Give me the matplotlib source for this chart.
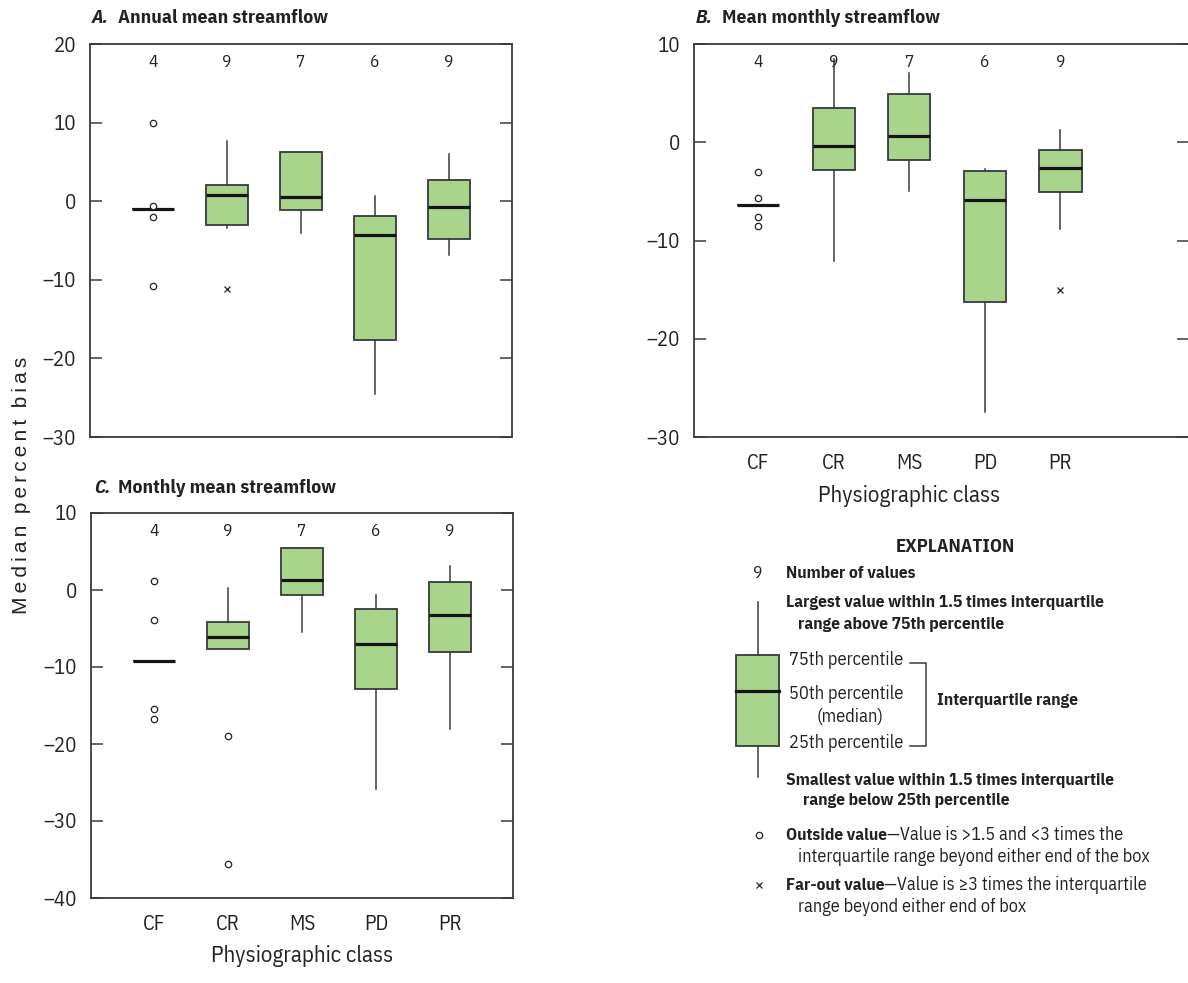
import matplotlib
matplotlib.use("Agg")
import matplotlib.pyplot as plt
from matplotlib.patches import Rectangle
from matplotlib.transforms import blended_transform_factory

NARROW = ["IBM Plex Sans Condensed", "Liberation Sans", "DejaVu Sans"]
plt.rcParams["font.family"] = NARROW

FILL = "#a8d48c"
EDGE = "#3a3a3a"
INK = "#222222"
W, H = 1188, 983

# ---------------------------------------------------------------------------
# Data
# ---------------------------------------------------------------------------
classes = ["CF", "CR", "MS", "PD", "PR"]
counts = [4, 9, 7, 6, 9]

# A. Annual mean streamflow
a_whislo = [-1.0, -3.4, -4.0, -24.5, -6.8]
a_q1 = [-1.0, -3.0, -1.1, -17.6, -4.8]
a_med = [-1.0, 0.8, 0.5, -4.3, -0.8]
a_q3 = [-1.0, 2.0, 6.3, -1.9, 2.7]
a_whishi = [-1.0, 7.7, 6.3, 0.6, 6.0]
a_outside = [[10.0, -0.6, -2.0, -10.8], [], [], [], []]
a_farout = [[], [-11.2], [], [], []]

# B. Mean monthly streamflow
b_whislo = [-6.4, -12.1, -5.0, -27.5, -8.8]
b_q1 = [-6.4, -2.8, -1.8, -16.3, -5.1]
b_med = [-6.4, -0.4, 0.6, -5.9, -2.6]
b_q3 = [-6.4, 3.5, 4.9, -2.9, -0.8]
b_whishi = [-6.4, 8.5, 7.0, -2.7, 1.2]
b_outside = [[-3.0, -5.7, -7.6, -8.5], [], [], [], []]
b_farout = [[], [], [], [], [-15.0]]

# C. Monthly mean streamflow
c_whislo = [-9.2, -7.6, -5.5, -25.9, -18.1]
c_q1 = [-9.2, -7.6, -0.6, -12.8, -8.0]
c_med = [-9.2, -6.1, 1.3, -7.0, -3.3]
c_q3 = [-9.2, -4.2, 5.4, -2.5, 1.1]
c_whishi = [-9.2, 0.3, 5.4, -0.7, 3.1]
c_outside = [[1.2, -3.9, -15.4, -16.7], [-19.0, -35.6], [], [], []]
c_farout = [[], [], [], [], []]


def px_rect(left, top, right, bottom):
    return [left / W, 1 - bottom / H, (right - left) / W, (bottom - top) / H]


def draw_panel(ax, whislo, q1, med, q3, whishi, outside, farout,
               ylim, yticks, xlim, show_x):
    stats = []
    for i in range(len(classes)):
        stats.append(dict(med=med[i], q1=q1[i], q3=q3[i],
                          whislo=whislo[i], whishi=whishi[i], fliers=[]))
    pos = list(range(1, len(classes) + 1))
    ax.bxp(stats, positions=pos, widths=0.56, patch_artist=True,
           showcaps=False, showfliers=False,
           boxprops=dict(facecolor=FILL, edgecolor=EDGE, linewidth=1.3),
           whiskerprops=dict(color=EDGE, linewidth=1.1),
           medianprops=dict(color="#151515", linewidth=2.3))
    for p, vals in zip(pos, outside):
        if vals:
            ax.plot([p] * len(vals), vals, linestyle="none", marker="o",
                    markersize=4.6, markerfacecolor="white",
                    markeredgecolor=INK, markeredgewidth=0.9, zorder=4)
    for p, vals in zip(pos, farout):
        if vals:
            ax.plot([p] * len(vals), vals, linestyle="none", marker="x",
                    markersize=5, color=INK, markeredgewidth=0.9, zorder=4)
    trans = blended_transform_factory(ax.transData, ax.transAxes)
    for p, n in zip(pos, counts):
        ax.text(p, 0.953, str(n), transform=trans, ha="center", va="center",
                fontsize=12.5, color=INK)
    ax.set_xlim(*xlim)
    ax.set_ylim(*ylim)
    ax.set_yticks(yticks)
    ax.set_yticklabels([str(t).replace("-", "\u2013") for t in yticks],
                       fontsize=15, color=INK)
    ax.tick_params(axis="y", direction="in", length=8.5, width=1.1,
                   color=EDGE, left=True, right=True, pad=10)
    ax.tick_params(axis="x", length=0, pad=12)
    ax.set_xticks(pos)
    if show_x:
        ax.set_xticklabels(classes, fontsize=15, color=INK)
        ax.text(3, -0.15, "Physiographic class", transform=trans,
                ha="center", va="center", fontsize=16.5, color=INK)
    else:
        ax.set_xticklabels([])
    for s in ax.spines.values():
        s.set_color(EDGE)
        s.set_linewidth(1.3)


def title(fig, x_letter, x_text, y, letter, text):
    fig.text(x_letter / W, 1 - y / H, letter, fontsize=14, fontweight="bold",
             style="italic", va="center", ha="left", color=INK)
    fig.text(x_text / W, 1 - y / H, text, fontsize=14, fontweight="bold",
             va="center", ha="left", color=INK)


fig = plt.figure(figsize=(W / 100, H / 100), dpi=100, facecolor="white")

ax_a = fig.add_axes(px_rect(90, 44, 512, 437))
draw_panel(ax_a, a_whislo, a_q1, a_med, a_q3, a_whishi, a_outside, a_farout,
           (-30, 20), [-30, -20, -10, 0, 10, 20], (0.149, 5.851), False)

ax_b = fig.add_axes(px_rect(694, 44, 1189, 437))
draw_panel(ax_b, b_whislo, b_q1, b_med, b_q3, b_whishi, b_outside, b_farout,
           (-30, 10), [-30, -20, -10, 0, 10], (0.152, 6.70), True)

ax_c = fig.add_axes(px_rect(91, 513, 513, 898))
draw_panel(ax_c, c_whislo, c_q1, c_med, c_q3, c_whishi, c_outside, c_farout,
           (-40, 10), [-40, -30, -20, -10, 0, 10], (0.149, 5.851), True)

title(fig, 92, 118, 18, "A.", "Annual mean streamflow")
title(fig, 696, 722, 18, "B.", "Mean monthly streamflow")
title(fig, 94, 118, 488, "C.", "Monthly mean streamflow")

ylab = "\u2009".join("Median") + "  " + "\u2009".join("percent") + "  " + "\u2009".join("bias")
fig.text(22 / W, 1 - 485 / H, ylab, rotation=90, ha="center", va="center",
         fontsize=15, color=INK, family=["Liberation Sans", "DejaVu Sans"])

# ---------------------------------------------------------------------------
# Explanation (drawn in pixel coordinates on an overlay)
# ---------------------------------------------------------------------------
lg = fig.add_axes([0, 0, 1, 1])
lg.set_xlim(0, W)
lg.set_ylim(H, 0)
lg.axis("off")
renderer = fig.canvas.get_renderer()


def runs(x, y, parts, size=12.5):
    for txt, weight in parts:
        t = lg.text(x, y, txt, fontsize=size if weight == "bold" else size + 0.6,
                    fontweight=weight, ha="left", va="center", color=INK)
        x = t.get_window_extent(renderer).x1


lg.text(955, 547, "EXPLANATION", fontsize=13.5, fontweight="bold",
        ha="center", va="center", color=INK)
lg.text(758, 573, "9", fontsize=12.5, ha="center", va="center", color=INK)
runs(786, 573, [("Number of values", "bold")])
runs(786, 602, [("Largest value within 1.5 times interquartile", "bold")])
runs(798, 624, [("range above 75th percentile", "bold")])

lg.plot([758, 758], [602, 655], color=EDGE, lw=1.1)
lg.plot([758, 758], [746, 777], color=EDGE, lw=1.1)
lg.add_patch(Rectangle((736, 655), 43, 91, facecolor=FILL, edgecolor=EDGE,
                       lw=1.3))
lg.plot([736, 779], [691, 691], color="#151515", lw=2.3)

runs(789, 660, [("75th percentile", "normal")], size=12.6)
runs(789, 694, [("50th percentile", "normal")], size=12.6)
lg.text(850, 717, "(median)", fontsize=13.2, ha="center", va="center",
        color=INK)
runs(789, 743, [("25th percentile", "normal")], size=12.6)
lg.plot([910, 926, 926, 910], [663, 663, 746, 746], color=EDGE, lw=1.1)
runs(937, 701, [("Interquartile range", "bold")])

runs(786, 780, [("Smallest value within 1.5 times interquartile", "bold")])
runs(803, 801, [("range below 25th percentile", "bold")])

lg.plot([759], [835], linestyle="none", marker="o", markersize=4.6,
        markerfacecolor="white", markeredgecolor=INK, markeredgewidth=0.9)
runs(786, 835, [("Outside value", "bold"),
                ("\u2014Value is >1.5 and <3 times the", "normal")])
runs(798, 857, [("interquartile range beyond either end of the box", "normal")])

lg.plot([759], [885], linestyle="none", marker="x", markersize=5,
        color=INK, markeredgewidth=0.9)
runs(786, 885, [("Far-out value", "bold"),
                ("\u2014Value is \u22653 times the interquartile", "normal")])
runs(798, 907, [("range beyond either end of box", "normal")])

fig.savefig("out.png", dpi=100, facecolor="white")
